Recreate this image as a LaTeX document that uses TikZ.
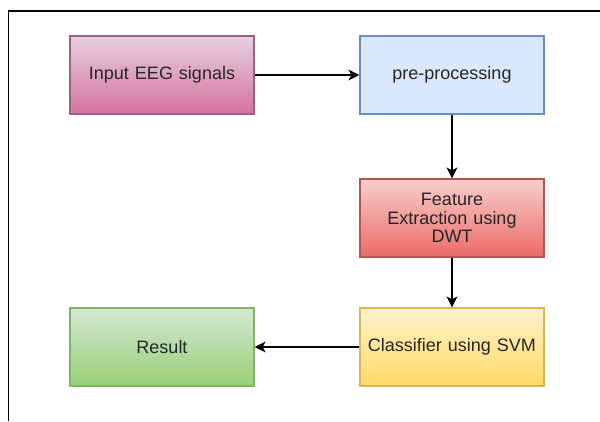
\documentclass[tikz,border=0pt]{standalone}
\usepackage{fontspec}
\setmainfont{Liberation Sans}
\usetikzlibrary{arrows.meta}
\definecolor{txt}{HTML}{262626}
\definecolor{pinkT}{HTML}{E6D0DE}\definecolor{pinkB}{HTML}{D5739D}\definecolor{pinkD}{HTML}{996185}
\definecolor{blueF}{HTML}{DAE8FC}\definecolor{blueD}{HTML}{6C8EBF}
\definecolor{redT}{HTML}{F8CECC}\definecolor{redB}{HTML}{EA6B66}\definecolor{redD}{HTML}{B85450}
\definecolor{yelT}{HTML}{FFF2CC}\definecolor{yelB}{HTML}{FFD966}\definecolor{yelD}{HTML}{D6B656}
\definecolor{grnT}{HTML}{D5E8D4}\definecolor{grnB}{HTML}{97D077}\definecolor{grnD}{HTML}{82B366}
\tikzset{
  box/.style={draw, line width=1.2pt, minimum width=184pt, minimum height=78pt, inner sep=0pt,
    align=center, text width=175pt, text=txt, font=\fontsize{18}{18.5}\selectfont},
  conn/.style={draw=black, line width=1.3pt, -{Stealth[length=11pt,width=11pt,inset=3pt]}},
  frame/.style={draw=black, line width=1.5pt}
}
\begin{document}
\begin{tikzpicture}[x=1pt,y=-1pt]
\useasboundingbox (0,0) rectangle (600,421);
\draw[frame] (600,11) -- (8.5,11) -- (8.5,421);
\node[box, draw=pinkD, top color=pinkT, bottom color=pinkB] (inp) at (162,75) {Input EEG signals};
\node[box, draw=blueD, fill=blueF] (pre) at (452,75) {pre-processing};
\node[box, draw=redD, top color=redT, bottom color=redB] (feat) at (452,218) {Feature\\Extraction using\\DWT};
\node[box, draw=yelD, top color=yelT, bottom color=yelB] (cls) at (452,347) {Classifier using SVM};
\node[box, draw=grnD, top color=grnT, bottom color=grnB] (res) at (162,347) {Result};
\draw[conn] (inp) -- (pre);
\draw[conn] (pre) -- (feat);
\draw[conn] (feat) -- (cls);
\draw[conn] (cls) -- (res);
\end{tikzpicture}
\end{document}
